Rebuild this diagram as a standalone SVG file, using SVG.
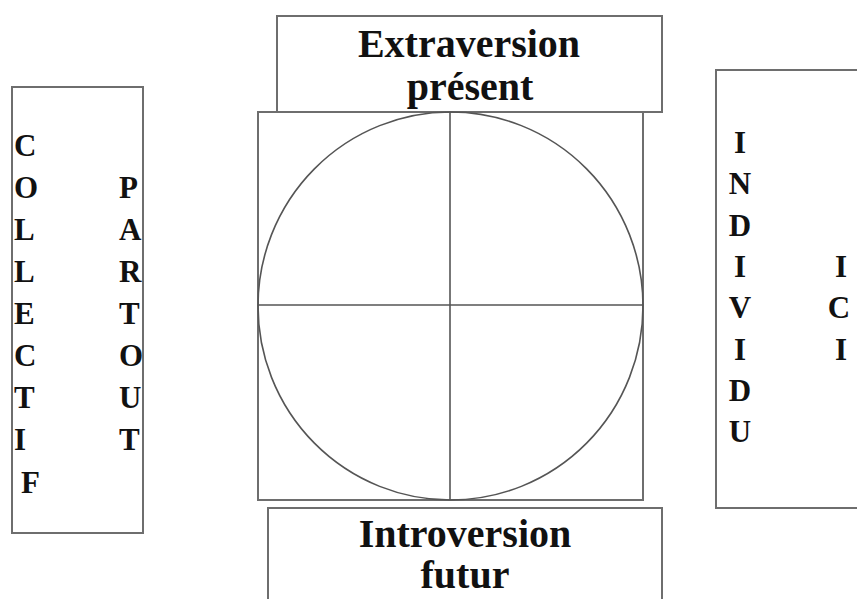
<svg xmlns="http://www.w3.org/2000/svg" width="857" height="599" viewBox="0 0 857 599">
<style>
.box{fill:none;stroke:#6e6e6e;stroke-width:2}
.ln{fill:none;stroke:#555;stroke-width:1.6}
.t{font-family:"Liberation Serif","Times New Roman",serif;font-weight:bold;fill:#111}
.big{font-size:40px;text-anchor:middle}
.let{font-size:31px}
.mid{text-anchor:middle}
</style>
<rect width="857" height="599" fill="#ffffff"/>
<g id="extraversion">
<rect class="box" x="277" y="16" width="385" height="96"/>
<text class="t big" x="469" y="57">Extraversion</text>
<text class="t big" x="470" y="100">présent</text>
</g>
<g id="introversion">
<rect class="box" x="268" y="508" width="394" height="110"/>
<text class="t big" x="465" y="547">Introversion</text>
<text class="t big" x="465" y="588">futur</text>
</g>
<g id="mandala">
<rect class="box" x="258" y="112" width="385" height="388"/>
<ellipse class="ln" cx="450.5" cy="306" rx="192.5" ry="194"/>
</g>
<g id="connectors">
<line class="ln" x1="450" y1="112" x2="450" y2="500"/>
<line class="ln" x1="258" y1="305" x2="643" y2="305"/>
</g>
<g id="collectif">
<rect class="box" x="12" y="87" width="131" height="446"/>
<g class="t let">
<text x="14" y="156">C</text>
<text x="14" y="198">O</text>
<text x="14" y="240">L</text>
<text x="14" y="282">L</text>
<text x="14" y="324">E</text>
<text x="14" y="366">C</text>
<text x="14" y="408">T</text>
<text x="14" y="450">I</text>
<text x="21" y="493">F</text>
<text x="119" y="198">P</text>
<text x="119" y="240">A</text>
<text x="119" y="282">R</text>
<text x="119" y="324">T</text>
<text x="119" y="366">O</text>
<text x="119" y="408">U</text>
<text x="119" y="450">T</text>
</g>
</g>
<g id="individu">
<rect class="box" x="716" y="70" width="160" height="438"/>
<g class="t let mid">
<text x="740" y="153">I</text>
<text x="740" y="194">N</text>
<text x="740" y="236">D</text>
<text x="740" y="277">I</text>
<text x="740" y="318">V</text>
<text x="740" y="360">I</text>
<text x="740" y="401">D</text>
<text x="740" y="442">U</text>
<text x="841" y="277">I</text>
<text x="839" y="318">C</text>
<text x="841" y="360">I</text>
</g>
</g>
</svg>
